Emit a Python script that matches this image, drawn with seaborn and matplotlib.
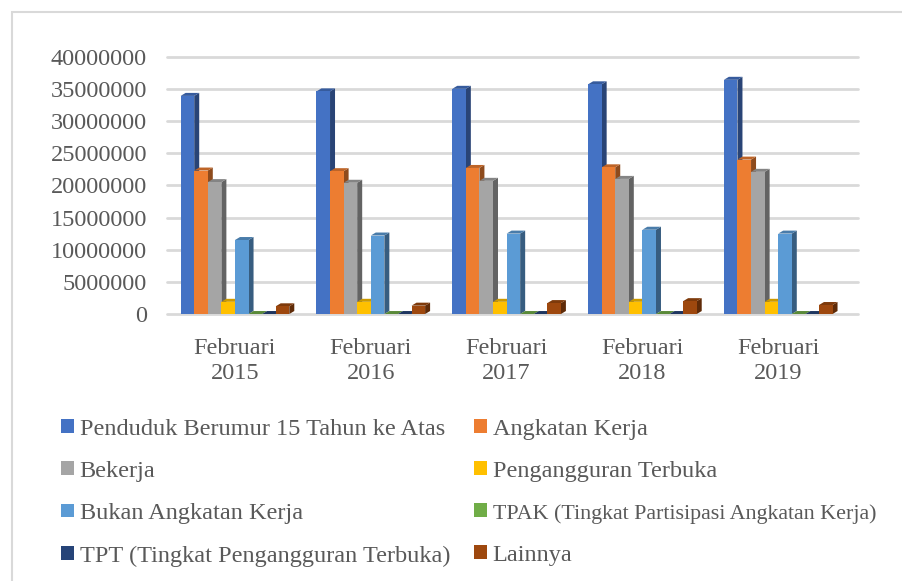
import numpy as np
import pandas as pd
import matplotlib
matplotlib.use("Agg")
import matplotlib.pyplot as plt
import seaborn as sns
from matplotlib.patches import Polygon, Rectangle

# data
periode = ["Februari\n2015", "Februari\n2016", "Februari\n2017", "Februari\n2018", "Februari\n2019"]
seri = [
    "Penduduk Berumur 15 Tahun ke Atas",
    "Angkatan Kerja",
    "Bekerja",
    "Pengangguran Terbuka",
    "Bukan Angkatan Kerja",
    "TPAK (Tingkat Partisipasi Angkatan Kerja)",
    "TPT (Tingkat Pengangguran Terbuka)",
    "Lainnya",
]
penduduk = [33900000, 34600000, 35000000, 35700000, 36400000]
angkatan = [22300000, 22200000, 22700000, 22800000, 24000000]
bekerja = [20500000, 20400000, 20700000, 21000000, 22100000]
pengangguran = [1900000, 1900000, 1900000, 1900000, 1900000]
bukan_ak = [11500000, 12200000, 12500000, 13100000, 12500000]
tpak = [65.8, 64.6, 65.0, 63.7, 65.9]
tpt = [8.4, 8.6, 8.5, 8.2, 7.7]
lainnya = [1200000, 1300000, 1700000, 2000000, 1400000]
yticks = list(range(0, 40000001, 5000000))

warna = ["#4472C4", "#ED7D31", "#A5A5A5", "#FFC000",
         "#5B9BD5", "#70AD47", "#264478", "#9E480E"]

nilai = [penduduk, angkatan, bekerja, pengangguran, bukan_ak, tpak, tpt, lainnya]
baris = []
for s, v in zip(seri, nilai):
    for p, x in zip(periode, v):
        baris.append({"periode": p, "seri": s, "nilai": x})
df = pd.DataFrame(baris)

sns.set_theme(style="white")
plt.rcParams["font.family"] = ["Liberation Serif", "DejaVu Serif"]
teks = "#595959"

fig = plt.figure(figsize=(9.03, 5.81), dpi=100)
ax = fig.add_axes([0.185, 0.4595, 0.752, 0.443])

sns.barplot(data=df, x="periode", y="nilai", hue="seri", hue_order=seri,
            order=periode, palette=warna, width=0.8, gap=0, ax=ax,
            legend=False, saturation=1, zorder=3, linewidth=0)

ax.set_ylim(0, 40000000)
ax.set_yticks(yticks)
ax.set_yticklabels([str(v) for v in yticks])
ax.grid(False)
for v in yticks:
    ax.axhline(v, xmin=0.0, xmax=1.018, color="#D9D9D9", linewidth=2,
               zorder=0, clip_on=False)
for sp in ax.spines.values():
    sp.set_visible(False)
ax.set_xlabel("")
ax.set_ylabel("")
ax.tick_params(axis="y", labelsize=17.5, colors=teks, pad=14.5, length=0)
ax.tick_params(axis="x", labelsize=17.5, colors=teks, pad=17, length=0)
for t in ax.get_xticklabels():
    t.set_linespacing(1.25)

# pseudo 3D: side and top faces from each bar's geometry
fig.canvas.draw()
dx, dy = 5, 3
tr = ax.transData
for bar in ax.patches:
    x0, y0 = bar.get_x(), bar.get_y()
    x1, y1 = x0 + bar.get_width(), y0 + bar.get_height()
    (px0, py0), (px1, py1) = tr.transform([(x0, y0), (x1, y1)])
    c = np.array(bar.get_facecolor()[:3])
    side = Polygon([(px1, py0), (px1 + dx, py0 + dy), (px1 + dx, py1 + dy), (px1, py1)],
                   closed=True, transform=None, facecolor=c * 0.6, edgecolor="none", zorder=2.5)
    top = Polygon([(px0, py1), (px1, py1), (px1 + dx, py1 + dy), (px0 + dx, py1 + dy)],
                  closed=True, transform=None, facecolor=c * 0.8, edgecolor="none", zorder=2.5)
    ax.add_artist(side)
    ax.add_artist(top)

# legend filled row by row (two columns)
urutan = [0, 2, 4, 6, 1, 3, 5, 7]
handles = [Rectangle((0, 0), 1, 1, facecolor=warna[i], edgecolor="none") for i in urutan]
labels = [seri[i] for i in urutan]
leg = fig.legend(handles, labels, loc="upper left", bbox_to_anchor=(0.068, 0.279), ncol=2,
                 frameon=False, fontsize=17.5, handlelength=0.5, handleheight=0.5,
                 handletextpad=0.25, labelspacing=0.87, columnspacing=1.0,
                 labelcolor=teks, borderaxespad=0, borderpad=0)
for t in leg.get_texts():
    if t.get_text().startswith("TPAK"):
        t.set_fontsize(15.8)

fig.patches.append(Rectangle((0.013, -0.1), 1.2, 1.079, transform=fig.transFigure,
                             fill=False, edgecolor="#D9D9D9", linewidth=1.5))

fig.savefig("out.png", dpi=100)
